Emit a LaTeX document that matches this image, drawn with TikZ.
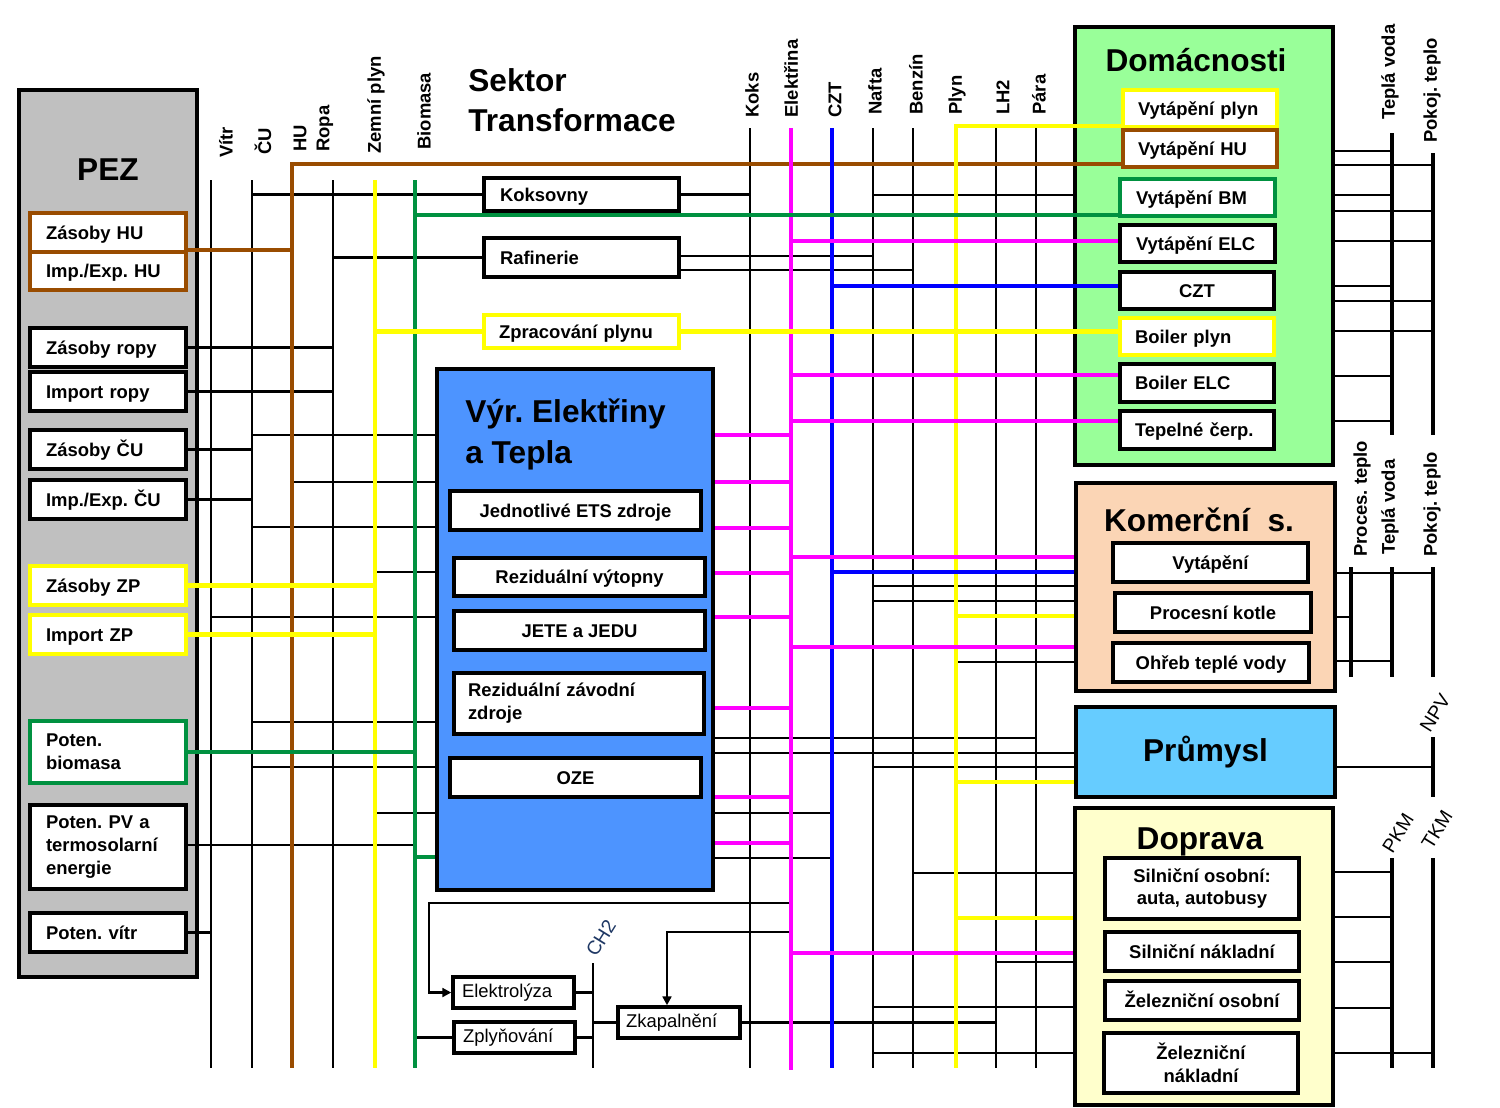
\documentclass[tikz,border=0pt]{standalone}
\usepackage{fontspec}
\setmainfont{Liberation Sans}
\usetikzlibrary{arrows.meta}
\pgfdeclarelayer{l0}\pgfdeclarelayer{l1}\pgfdeclarelayer{l2}
\pgfsetlayers{l0,l1,l2,main}
\frenchspacing
\definecolor{cbrown}{RGB}{153,76,0}
\definecolor{cyel}{RGB}{255,255,0}
\definecolor{cgreen}{RGB}{0,145,64}
\definecolor{cmag}{RGB}{255,0,255}
\definecolor{cblue}{RGB}{0,0,255}
\definecolor{cgray}{RGB}{192,192,192}
\definecolor{dgreen}{RGB}{153,255,153}
\definecolor{kpeach}{RGB}{251,213,181}
\definecolor{pblue}{RGB}{102,204,255}
\definecolor{dyel}{RGB}{255,255,204}
\definecolor{vblue}{RGB}{77,148,255}
\definecolor{chnavy}{RGB}{31,56,100}
\newcommand\mybox[7]{%
  \pgfmathsetmacro\bxW{(#4-#2)*0.02}\pgfmathsetmacro\bxH{(#5-#3)*0.02}%
  \pgfmathsetmacro\bxX{(#2+#4)/2}\pgfmathsetmacro\bxY{(#3+#5)/2}%
  \node[#6, minimum width=\bxW cm, minimum height=\bxH cm] (#1) at (\bxX,\bxY) {#7};}
\newcommand\myboxl[8]{%
  \pgfmathsetmacro\bxW{(#4-#2)*0.02}\pgfmathsetmacro\bxH{(#5-#3)*0.02}%
  \pgfmathsetmacro\bxT{(#4-#2-2*#8)*0.02}%
  \pgfmathsetmacro\bxX{(#2+#4)/2}\pgfmathsetmacro\bxY{(#3+#5)/2}%
  \node[#6, align=left, text width=\bxT cm, minimum width=\bxW cm, minimum height=\bxH cm] (#1) at (\bxX,\bxY) {#7};}
\newcommand\hln[4]{\draw[#1] (#2 |- 0,#4) -- (#3 |- 0,#4);}
\newcommand\vln[4]{\draw[#1] (#2 |- 0,#3) -- (#2 |- 0,#4);}
\tikzset{
  bk/.style={line width=1.6pt, black},
  bkr/.style={line width=2.1pt, black},
  brl/.style={line width=2.3pt, cbrown},
  yel/.style={line width=2.3pt, cyel},
  grn/.style={line width=2.3pt, cgreen},
  mag/.style={line width=2.3pt, cmag},
  blu/.style={line width=2.3pt, cblue},
  arr/.style={line width=1.3pt, black, -{Triangle[length=5pt,width=5pt]}},
  bigbox/.style={draw=black, line width=2.3pt, inner sep=0pt},
  sbox/.style={draw=black, fill=white, line width=2pt, inner sep=0pt, align=center, font=\bfseries\fontsize{10.5}{13}\selectfont},
  smbox/.style={draw=black, fill=white, line width=2pt, inner sep=0pt, font=\fontsize{10.5}{13}\selectfont},
  onel/.style={text height=9.5pt, text depth=2pt},
  buslbl/.style={rotate=90, anchor=west, inner sep=0pt, font=\bfseries\fontsize{10.5}{12}\selectfont},
  diaglbl/.style={rotate=58, inner sep=0pt, font=\fontsize{11}{12}\selectfont},
  ttl/.style={inner sep=0pt, font=\bfseries\fontsize{18}{23}\selectfont}
}
\begin{document}
\begin{tikzpicture}[x=0.02cm, y={(0cm,-0.02cm)}]
\useasboundingbox (0,0) rectangle (1500,1107);
% bus coordinates
\coordinate (vitr) at (211,0);
\coordinate (cu) at (252,0);
\coordinate (hu) at (292,0);
\coordinate (ropa) at (333,0);
\coordinate (zplyn) at (375,0);
\coordinate (bio) at (415,0);
\coordinate (koks) at (750,0);
\coordinate (elc) at (791,0);
\coordinate (czt) at (832,0);
\coordinate (nafta) at (873,0);
\coordinate (benz) at (913,0);
\coordinate (plyn) at (956,0);
\coordinate (lh) at (996,0);
\coordinate (para) at (1036,0);
\coordinate (tva) at (1392,0);
\coordinate (pte) at (1433,0);
\coordinate (prt) at (1351,0);
\coordinate (chh) at (593,0);
\coordinate (ebx) at (429,0);
\coordinate (zbx) at (667,0);

% background big boxes
\begin{pgfonlayer}{l0}
\mybox{pez}{19}{90}{197}{977}{bigbox,fill=cgray}{}
\mybox{dom}{1075}{27}{1333}{465}{bigbox,fill=dgreen}{}
\end{pgfonlayer}
\begin{pgfonlayer}{l2}
\mybox{vyr}{437}{369}{713}{890}{bigbox,fill=vblue}{}
\mybox{kom}{1076}{483}{1335}{691}{bigbox,fill=kpeach}{}
\mybox{prum}{1076}{707}{1335}{797}{bigbox,fill=pblue,ttl}{Průmysl}
\mybox{dop}{1075}{808}{1333}{1105}{bigbox,fill=dyel}{}
\end{pgfonlayer}

% titles
\node[ttl] (tpez) at (108,170) {PEZ};
\node[ttl] (tdom) at (1196,60) {Domácnosti};
\node[ttl] (tkom) at (1199,520) {Komerční\ \ s.};
\node[ttl] (tdop) at (1200,842) {Doprava};
\node[ttl, anchor=north west, align=left] (tvyr) at (465,399) {Výr. Elektřiny\\a Tepla};
\node[ttl, anchor=north west, align=left] (tsek) at (468,68) {Sektor\\Transformace};

% PEZ sub boxes
\myboxl{zhu}{30}{213}{186}{252}{sbox,draw=cbrown,onel}{Zásoby HU}{16}
\myboxl{ihu}{30}{252}{186}{290}{sbox,draw=cbrown,onel}{Imp./Exp. HU}{16}
\myboxl{zr}{30}{328}{186}{367}{sbox,onel}{Zásoby ropy}{16}
\myboxl{ir}{30}{372}{186}{411}{sbox,onel}{Import ropy}{16}
\myboxl{zcu}{30}{430}{186}{469}{sbox,onel}{Zásoby ČU}{16}
\myboxl{icu}{30}{480}{186}{519}{sbox,onel}{Imp./Exp. ČU}{16}
\myboxl{zzp}{30}{566}{186}{605}{sbox,draw=cyel,onel}{Zásoby ZP}{16}
\myboxl{izp}{30}{615}{186}{654}{sbox,draw=cyel,onel}{Import ZP}{16}
\myboxl{pbm}{30}{721}{186}{783}{sbox,draw=cgreen}{Poten.\\biomasa}{16}
\myboxl{ppv}{30}{805}{186}{889}{sbox}{Poten. PV a\\termosolarní\\energie}{16}
\myboxl{pvi}{30}{913}{186}{952}{sbox,onel}{Poten. vítr}{16}

% transformation boxes
\myboxl{kok}{484}{178}{679}{211}{sbox,onel}{Koksovny}{16}
\myboxl{raf}{484}{238}{679}{277}{sbox,onel}{Rafinerie}{16}
\myboxl{zpp}{484}{315}{679}{348}{sbox,draw=cyel,onel}{Zpracování plynu}{15}

% Vyr block sub boxes
\mybox{ets}{450}{491}{701}{530}{sbox,onel}{Jednotlivé ETS zdroje}
\mybox{rvy}{454}{558}{705}{596}{sbox,onel}{Reziduální výtopny}
\mybox{jete}{454}{611}{705}{650}{sbox,onel}{JETE a JEDU}
\myboxl{rzz}{454}{673}{704}{734}{sbox}{Reziduální závodní\\zdroje}{14}
\mybox{oze}{450}{758}{701}{797}{sbox,onel}{OZE}

% Domacnosti sub boxes
\myboxl{vpl}{1123}{90}{1277}{127}{sbox,draw=cyel,onel}{Vytápění plyn}{15}
\myboxl{vhu}{1123}{130}{1277}{167}{sbox,draw=cbrown,onel}{Vytápění HU}{15}
\myboxl{vbm}{1120}{179}{1275}{216}{sbox,draw=cgreen,onel}{Vytápění BM}{16}
\myboxl{velc}{1120}{225}{1275}{262}{sbox,onel}{Vytápění ELC}{16}
\mybox{cztb}{1120}{272}{1274}{309}{sbox,onel}{CZT}
\myboxl{bpl}{1120}{318}{1274}{355}{sbox,draw=cyel,onel}{Boiler plyn}{15}
\myboxl{belc}{1120}{364}{1274}{402}{sbox,onel}{Boiler ELC}{15}
\myboxl{tc}{1120}{411}{1274}{449}{sbox,onel}{Tepelné čerp.}{15}

% Komercni sub boxes
\mybox{kvy}{1113}{543}{1308}{582}{sbox,onel}{Vytápění}
\mybox{kpk}{1115}{593}{1311}{632}{sbox,onel}{Procesní kotle}
\mybox{koh}{1113}{643}{1309}{682}{sbox,onel}{Ohřeb teplé vody}

% Doprava sub boxes
\mybox{dso}{1105}{858}{1299}{919}{sbox}{Silniční osobní:\\auta, autobusy}
\mybox{dsn}{1105}{932}{1299}{971}{sbox,onel}{Silniční nákladní}
\mybox{dzo}{1105}{981}{1299}{1020}{sbox,onel}{Železniční osobní}
\mybox{dzn}{1104}{1033}{1298}{1093}{sbox}{Železniční\\nákladní}

% small boxes
\myboxl{elz}{453}{977}{574}{1008}{smbox}{Elektrolýza}{9}
\myboxl{zpl}{454}{1022}{575}{1053}{smbox}{Zplyňování}{9}
\myboxl{zka}{618}{1007}{740}{1038}{smbox}{Zkapalnění}{8}

% bus labels
\node[buslbl] (lvitr) at (226,158) {Vítr};
\node[buslbl] (lcu) at (263,155) {ČU};
\node[buslbl] (lhu) at (300,152) {HU};
\node[buslbl] (lropa) at (325,152) {Ropa};
\node[buslbl] (lzp) at (376,154) {Zemní plyn};
\node[buslbl] (lbio) at (424,150) {Biomasa};
\node[buslbl] (lkoks) at (752,118) {Koks};
\node[buslbl] (lelc) at (791,118) {Elektřina};
\node[buslbl] (lczt) at (835,118) {CZT};
\node[buslbl] (lnaf) at (875,115) {Nafta};
\node[buslbl] (lben) at (916,115) {Benzín};
\node[buslbl] (lply) at (957,115) {Plyn};
\node[buslbl] (llh) at (1003,115) {LH2};
\node[buslbl] (lpar) at (1039,115) {Pára};
\node[buslbl] (ltv1) at (1390,120) {Teplá voda};
\node[buslbl] (lpt1) at (1432,143) {Pokoj. teplo};
\node[buslbl] (lprt) at (1362,557) {Proces. teplo};
\node[buslbl] (ltv2) at (1390,555) {Teplá voda};
\node[buslbl] (lpt2) at (1432,557) {Pokoj. teplo};
\node[diaglbl] (lnpv) at (1435,713) {NPV};
\node[diaglbl] (lpkm) at (1398,833) {PKM};
\node[diaglbl] (ltkm) at (1437,830) {TKM};
\node[diaglbl, text=chnavy] (lch) at (601,938) {CH2};

% ---------------- lines ----------------
\begin{pgfonlayer}{l1}
% black verticals
\vln{bk}{vitr}{180}{1068}
\vln{bk}{cu}{180}{1068}
\vln{bk}{ropa}{180}{1068}
\vln{bk}{koks}{128}{1068}
\vln{bk}{nafta}{128}{1068}
\vln{bk}{benz}{128}{1068}
\vln{bk}{lh}{128}{1068}
\vln{bk}{para}{128}{1068}
\vln{bk}{chh}{963}{1068}
% black horizontals PEZ
\draw[bk] (zr.east) -- (ropa |- zr.east);
\draw[bk] (ir.east) -- (ropa |- ir.east);
\draw[bk] (zcu.east) -- (cu |- zcu.east);
\draw[bk] (icu.east) -- (cu |- icu.east);
\draw[bk] (ppv.east |- 0,845) -- (bio |- 0,845);
\draw[bk] (pvi.east) -- (vitr |- pvi.east);
% transformation
\draw[bk] (cu |- kok.west) -- (kok.west);
\draw[bk] (kok.east) -- (koks |- kok.east);
\hln{bk}{nafta}{dom.west}{195}
\draw[bk] (ropa |- raf.west) -- (raf.west);
\hln{bk}{raf.east}{nafta}{256}
\hln{bk}{raf.east}{benz}{270}
% into vyr
\hln{bk}{cu}{vyr.west}{435}
\hln{bk}{hu}{vyr.west}{482}
\hln{bk}{cu}{vyr.west}{527}
\hln{bk}{zplyn}{vyr.west}{572}
\hln{bk}{vitr}{vyr.west}{617}
\hln{bk}{cu}{vyr.west}{722}
\hln{bk}{cu}{vyr.west}{767}
\hln{bk}{zplyn}{vyr.west}{813}
% out of vyr
\hln{bk}{vyr.east}{para}{738}
\hln{bk}{vyr.east}{prum.west}{753}
\hln{bk}{vyr.east}{czt}{813}
\hln{bk}{vyr.east}{czt}{858}
% komercni, prumysl, doprava (black)
\hln{bk}{nafta}{kom.west}{586}
\hln{bk}{nafta}{kom.west}{601}
\hln{bk}{plyn}{kom.west}{662}
\hln{bk}{nafta}{prum.west}{767}
\hln{bk}{benz}{dop.west}{873}
\hln{bk}{lh}{dop.west}{962}
\hln{bk}{nafta}{dop.west}{1007}
\hln{bk}{nafta}{dop.west}{1053}
% bottom
\draw[arr] (elc |- 0,903) -- (ebx |- 0,903) -- (ebx |- elz.west) -- (elz.west);
\draw[arr] (elc |- 0,932) -- (zbx |- 0,932) -- (zbx |- zka.north);
\draw[bk] (elz.east) -- (chh |- elz.east);
\draw[bk] (zpl.east) -- (chh |- zpl.east);
\draw[bk] (bio |- zpl.west) -- (zpl.west);
\draw[bk] (chh |- zka.west) -- (zka.west);
\draw[bk] (zka.east) -- (lh |- zka.east);
% right side
\foreach \yy in {151,195,286,376,421} {\hln{bk}{dom.east}{tva}{\yy}}
\foreach \yy in {165,211,241,301,331} {\hln{bk}{dom.east}{pte}{\yy}}
\vln{bkr}{tva}{133}{435}
\vln{bkr}{pte}{153}{435}
\hln{bk}{kom.east}{pte}{573}
\hln{bk}{kom.east}{prt}{617}
\hln{bk}{kom.east}{tva}{661}
\vln{bkr}{prt}{567}{677}
\vln{bkr}{tva}{567}{677}
\vln{bkr}{pte}{567}{677}
\hln{bk}{prum.east}{pte}{767}
\vln{bkr}{pte}{737}{797}
\foreach \yy in {872,917,962,1008} {\hln{bk}{dop.east}{tva}{\yy}}
\hln{bk}{dop.east}{pte}{1053}
\vln{bkr}{tva}{858}{1068}
\vln{bkr}{pte}{858}{1068}
% colored verticals
\draw[brl] (vhu.west |- 0,164) -- (hu |- 0,164) -- (hu |- 0,1068);
\vln{yel}{zplyn}{180}{1068}
\vln{grn}{bio}{180}{1068}
\vln{mag}{elc}{128}{1070}
\vln{blu}{czt}{128}{1068}
\draw[yel] (vpl.west |- 0,126) -- (plyn |- 0,126) -- (plyn |- 0,1068);
% colored horizontals PEZ
\draw[brl] (ihu.north east) -- (hu |- ihu.north east);
\draw[yel] (zzp.east) -- (zplyn |- zzp.east);
\draw[yel] (izp.east) -- (zplyn |- izp.east);
\draw[grn] (pbm.east) -- (bio |- pbm.east);
% colored horizontals transformation / domacnosti
\hln{grn}{bio}{vbm.west}{215}
\hln{mag}{elc}{velc.west}{241}
\hln{blu}{czt}{cztb.west}{286}
\draw[yel] (zplyn |- zpp.west) -- (zpp.west);
\draw[yel] (zpp.east) -- (bpl.west |- zpp.east);
\hln{mag}{elc}{belc.west}{375}
\hln{mag}{elc}{tc.west}{421}
\hln{grn}{bio}{vyr.west}{857}
\foreach \yy in {435,482,528,573,617,708,797,843} {\hln{mag}{vyr.east}{elc}{\yy}}
% komercni, prumysl, doprava (colored)
\hln{mag}{elc}{kom.west}{557}
\hln{blu}{czt}{kom.west}{572}
\hln{yel}{plyn}{kom.west}{616}
\hln{mag}{elc}{kom.west}{647}
\hln{yel}{plyn}{prum.west}{782}
\hln{yel}{plyn}{dop.west}{918}
\hln{mag}{elc}{dop.west}{953}
\end{pgfonlayer}
\end{tikzpicture}
\end{document}
